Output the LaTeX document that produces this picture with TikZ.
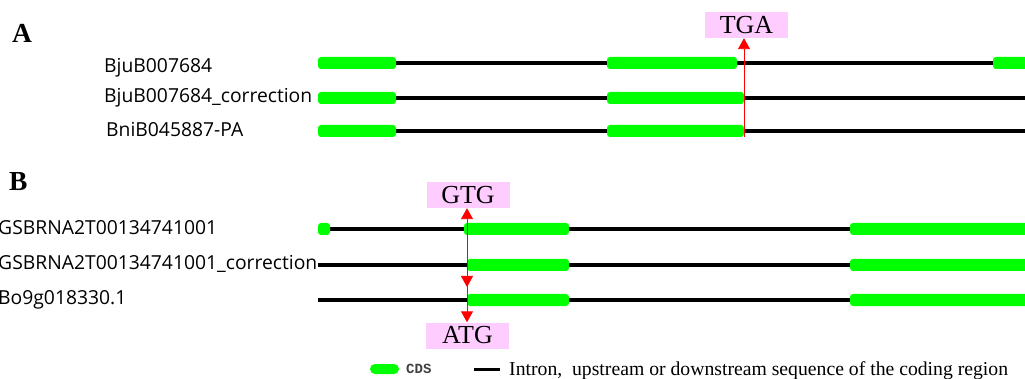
\documentclass[tikz,border=0pt]{standalone}
\usepackage{fontspec}
\setmainfont{Liberation Serif}
\newfontfamily\labff{Open Sans}
\newfontfamily\monoff{Liberation Mono}
\usetikzlibrary{arrows.meta}
\definecolor{cdsgreen}{HTML}{00FF00}
\definecolor{pinkbg}{HTML}{FFCCFF}
\definecolor{arrred}{HTML}{FF0000}
\tikzset{
  cds/.style={fill=cdsgreen, draw=none, rounded corners=3pt},
  intron/.style={line width=3.8pt, black},
  codon/.style={fill=pinkbg, inner sep=0pt, minimum width=83pt, minimum height=26pt,
    font=\fontsize{26}{28}\selectfont},
  lab/.style={anchor=base west, inner sep=0pt, font=\labff\fontsize{19.3}{21}\selectfont},
  panel/.style={anchor=base west, inner sep=0pt, font=\bfseries\fontsize{27.5}{29}\selectfont},
  redline/.style={arrred, line width=0.9pt},
  redtip/.style={-{Triangle[length=11pt,width=12pt]}},
}
\begin{document}
\begin{tikzpicture}[x=1pt,y=-1pt]
\useasboundingbox (0,0) rectangle (1025,379);
% Panel A
\node[panel] (pa) at (12,43) {A};
\node[lab] (la1) at (104,73) {BjuB007684};
\node[lab] (la2) at (104,103) {BjuB007684\_correction};
\node[lab] (la3) at (106,137) {BniB045887-PA};
\foreach \y in {63,98,131} {\draw[intron] (318,\y) -- (1025,\y);}
\foreach \y in {63,98,131} {\fill[cds] (318,\y-6) rectangle (396,\y+6);}
\fill[cds] (607,57) rectangle (737,69);
\fill[cds] (607,92) rectangle (744,104);
\fill[cds] (607,125) rectangle (744,137);
\fill[cds] (993,57) rectangle (1030,69);
\node[codon] (tga) at (746.5,25) {TGA};
\coordinate (abot) at (744,137);
\draw[redline,redtip] (abot) -- (abot |- tga.south);
% Panel B
\node[panel] (pb) at (9,191) {B};
\node[lab] (lb1) at (-2,235) {GSBRNA2T00134741001};
\node[lab] (lb2) at (-2,270) {GSBRNA2T00134741001\_correction};
\node[lab] (lb3) at (-2,305) {Bo9g018330.1};
\foreach \y in {229,265,300} {\draw[intron] (318,\y) -- (1025,\y);}
\fill[cds] (318,223) rectangle (330,235);
\fill[cds] (464,223) rectangle (569,235);
\fill[cds] (467,259) rectangle (569,271);
\fill[cds] (467,294) rectangle (569,306);
\foreach \y in {229,265,300} {\fill[cds] (850,\y-6) rectangle (1030,\y+6);}
\node[codon] (gtg) at (468,195) {GTG};
\node[codon] (atg) at (467.5,335.5) {ATG};
\coordinate (bmid) at (467,270);
\coordinate (bmidtip) at (467,287);
\draw[redline,redtip] (bmid) -- (gtg.south -| bmid);
\draw[redline,redtip] (bmid) -- (atg.north -| bmid);
\draw[redline,redtip] (bmid) -- (bmidtip);
% Legend
\fill[cds, rounded corners=5pt] (370,364) rectangle (399,374);
\node[anchor=west, inner sep=0pt, text=black!75, font=\monoff\bfseries\fontsize{14}{15}\selectfont] (lcds) at (406,369) {CDS};
\draw[line width=3pt] (474,369) -- (500,369);
\node[anchor=base west, inner sep=0pt, font=\fontsize{19.7}{21}\selectfont] (lint) at (509,375) {Intron,\ \ upstream or downstream sequence of the coding region};
\end{tikzpicture}
\end{document}
